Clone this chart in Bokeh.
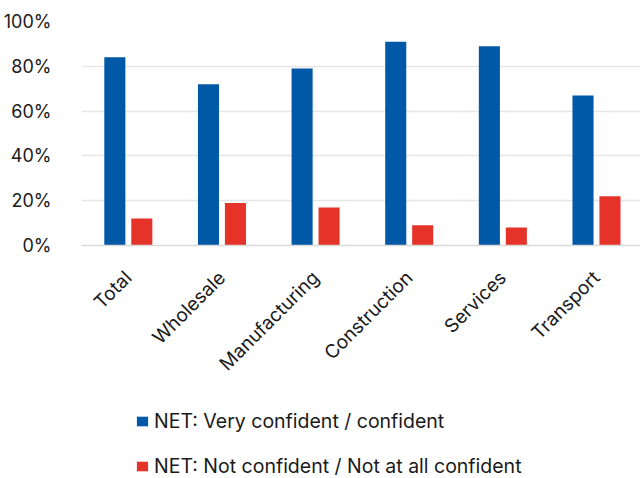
import math
from bokeh.plotting import figure
from bokeh.layouts import column
from bokeh.models import Range1d, FixedTicker, PrintfTickFormatter, Legend, LegendItem, ColumnDataSource
from bokeh.embed import file_html
from bokeh.resources import INLINE

categories = ["Total", "Wholesale", "Manufacturing", "Construction", "Services", "Transport"]
confident = [84, 72, 79, 91, 89, 67]
not_confident = [12, 19, 17, 9, 8, 22]
series_names = ["NET: Very confident / confident", "NET: Not confident / Not at all confident"]
y_ticks = [0, 20, 40, 60, 80, 100]

BLUE = "#0059A6"
RED = "#E5332A"
FONT = "Inter"
TXT = "#1a1a1a"

idx = list(range(len(categories)))
centers = [i + 0.5 for i in idx]
off = 0.144
bw = 0.225

src = ColumnDataSource(dict(
    xb=[c - off for c in centers],
    xr=[c + off for c in centers],
    conf=confident,
    notc=not_confident,
))

p = figure(width=640, height=395,
           x_range=Range1d(0, 5.97), y_range=Range1d(0, 100),
           output_backend="svg", toolbar_location=None,
           min_border_left=79, min_border_top=21, min_border_right=0, min_border_bottom=150)

p.vbar(x="xb", top="conf", width=bw, source=src, fill_color=BLUE, line_color=None)
p.vbar(x="xr", top="notc", width=bw, source=src, fill_color=RED, line_color=None)

p.outline_line_color = None
p.xgrid.grid_line_color = None
p.ygrid.grid_line_color = "#e6e6e6"
p.ygrid.grid_line_width = 1.5
p.yaxis.ticker = FixedTicker(ticks=y_ticks)
p.yaxis.formatter = PrintfTickFormatter(format="%d%%")
p.yaxis.axis_line_color = None
p.yaxis.major_tick_line_color = None
p.yaxis.minor_tick_line_color = None
p.yaxis.major_label_standoff = 24
p.yaxis.major_label_text_font = FONT
p.yaxis.major_label_text_font_size = "18px"
p.yaxis.major_label_text_color = TXT

p.xaxis.ticker = FixedTicker(ticks=centers)
p.xaxis.major_label_overrides = {c: name for c, name in zip(centers, categories)}
p.xaxis.major_label_orientation = math.pi / 4
p.xaxis.axis_line_color = "#d9d9d9"
p.xaxis.axis_line_width = 1.5
p.xaxis.major_tick_line_color = None
p.xaxis.minor_tick_line_color = None
p.xaxis.major_label_standoff = 23
p.xaxis.major_label_text_font = FONT
p.xaxis.major_label_text_font_size = "19px"
p.xaxis.major_label_text_color = TXT

# legend-only figure
lg = figure(width=640, height=83, x_range=Range1d(0, 1), y_range=Range1d(0, 1),
            output_backend="svg", toolbar_location=None,
            x_axis_location=None, y_axis_location=None,
            min_border_left=0, min_border_right=0, min_border_top=0, min_border_bottom=0)
lg.grid.grid_line_color = None
lg.outline_line_color = None
hidden = ColumnDataSource(dict(x=[5], top=[1]))
l1 = lg.vbar(x="x", top="top", width=0.1, source=hidden, fill_color=BLUE, line_color=None)
l2 = lg.vbar(x="x", top="top", width=0.1, source=hidden, fill_color=RED, line_color=None)

legend = Legend(items=[LegendItem(label=series_names[0], renderers=[l1]),
                       LegendItem(label=series_names[1], renderers=[l2])],
                orientation="vertical", location=(54, 0))
legend.border_line_color = None
legend.background_fill_alpha = 0
legend.label_text_font = FONT
legend.label_text_font_size = "19.5px"
legend.label_text_color = TXT
legend.glyph_width = 14
legend.glyph_height = 12
legend.label_standoff = 5
legend.label_height = 24
legend.spacing = 21
legend.padding = 0
legend.margin = 0
legend.click_policy = "none"
lg.add_layout(legend, "center")

layout = column(p, lg, spacing=0)
open("out.html", "w").write(file_html(layout, INLINE))
